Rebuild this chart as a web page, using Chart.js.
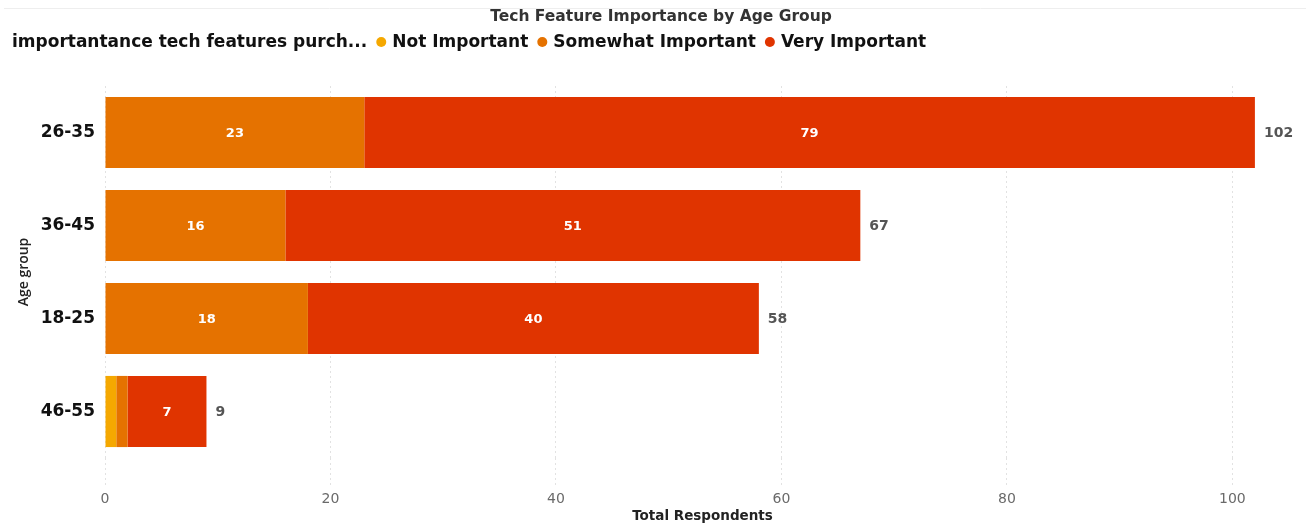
<!DOCTYPE html>
<html>
<head>
<meta charset="utf-8">
<title>Tech Feature Importance by Age Group</title>
<script src="https://cdn.jsdelivr.net/npm/chart.js@4.4.1/dist/chart.umd.min.js"></script>
<style>
  html, body { margin: 0; padding: 0; background: #ffffff; }
  #wrap { position: relative; width: 1313px; height: 527px; }
</style>
</head>
<body>
<div id="wrap"><canvas id="chart" width="1313" height="527"></canvas></div>
<script>
// Age groups, top to bottom
const ageGroups = ['26-35', '36-45', '18-25', '46-55'];

// Respondents per importance level
const notImportant = [0, 0, 0, 1];
const somewhatImportant = [23, 16, 18, 1];
const veryImportant = [79, 51, 40, 7];

// Axis ticks shown along the bottom
const xTicks = [0, 20, 40, 60, 80, 100];

const seriesLabels = ['Not Important', 'Somewhat Important', 'Very Important'];
const seriesColors = ['#F5A800', '#E57200', '#E03400'];

const chartTitle = 'Tech Feature Importance by Age Group';
const legendTitle = 'importantance tech features purch...';

const FONT = '"DejaVu Sans", "Open Sans", sans-serif';
const NARROW = '"Open Sans", "Noto Sans", sans-serif';

// Title, inline legend, segment values and row totals
const annotations = {
  id: 'annotations',
  afterDraw(chart) {
    const ctx = chart.ctx;
    ctx.save();

    // faint frame line under the header
    ctx.strokeStyle = '#eeeeee';
    ctx.lineWidth = 1;
    ctx.beginPath();
    ctx.moveTo(4, 8.5);
    ctx.lineTo(1306, 8.5);
    ctx.stroke();

    // title
    ctx.fillStyle = '#333333';
    ctx.font = 'bold 15.5px ' + FONT;
    ctx.textAlign = 'center';
    ctx.textBaseline = 'middle';
    ctx.fillText(chartTitle, 661, 17);

    // legend row
    ctx.textAlign = 'left';
    ctx.font = 'bold 17px ' + FONT;
    ctx.fillStyle = '#111111';
    let x = 12;
    const y = 43;
    ctx.fillText(legendTitle, x, y);
    x += ctx.measureText(legendTitle).width + 9;
    chart.data.datasets.forEach(ds => {
      ctx.fillStyle = ds.backgroundColor;
      ctx.beginPath();
      ctx.arc(x + 5, y - 1, 5, 0, Math.PI * 2);
      ctx.fill();
      x += 16;
      ctx.fillStyle = '#111111';
      ctx.fillText(ds.label, x, y);
      x += ctx.measureText(ds.label).width + 9;
    });

    // values inside segments
    ctx.textAlign = 'center';
    ctx.font = 'bold 13px ' + FONT;
    ctx.fillStyle = '#ffffff';
    chart.data.datasets.forEach((ds, di) => {
      const meta = chart.getDatasetMeta(di);
      meta.data.forEach((bar, i) => {
        const v = ds.data[i];
        const w = Math.abs(bar.x - bar.base);
        if (v > 0 && w > 30) {
          ctx.fillText(String(v), (bar.x + bar.base) / 2, bar.y + 1);
        }
      });
    });

    // totals at bar ends
    ctx.textAlign = 'left';
    ctx.font = 'bold 14px ' + FONT;
    ctx.fillStyle = '#555555';
    const xs = chart.scales.x;
    const ys = chart.scales.y;
    ageGroups.forEach((g, i) => {
      const total = notImportant[i] + somewhatImportant[i] + veryImportant[i];
      ctx.fillText(String(total), xs.getPixelForValue(total) + 9, ys.getPixelForValue(i) + 1);
    });

    ctx.restore();
  }
};

new Chart(document.getElementById('chart'), {
  type: 'bar',
  data: {
    labels: ageGroups,
    datasets: [
      { label: seriesLabels[0], data: notImportant, backgroundColor: seriesColors[0] },
      { label: seriesLabels[1], data: somewhatImportant, backgroundColor: seriesColors[1] },
      { label: seriesLabels[2], data: veryImportant, backgroundColor: seriesColors[2] }
    ]
  },
  options: {
    indexAxis: 'y',
    responsive: false,
    animation: false,
    devicePixelRatio: 1,
    categoryPercentage: 1,
    barPercentage: 0.765,
    layout: { padding: { top: 86, right: 13, bottom: 0, left: 8 } },
    plugins: {
      legend: { display: false },
      title: { display: false },
      tooltip: { enabled: false }
    },
    scales: {
      x: {
        stacked: true,
        min: 0,
        max: 106,
        afterBuildTicks(scale) {
          scale.ticks = xTicks.map(v => ({ value: v }));
        },
        afterFit(scale) { scale.height = 69; },
        border: { display: false, dash: [2, 3] },
        grid: {
          color: '#e2e2e2',
          lineWidth: 1,
          drawTicks: true,
          tickLength: 30,
          tickColor: '#e2e2e2',
          tickBorderDash: [2, 3]
        },
        ticks: {
          color: '#6a6a6a',
          padding: 3,
          font: { family: FONT, size: 14 }
        },
        title: {
          display: true,
          text: 'Total Respondents',
          color: '#222222',
          font: { family: FONT, size: 13.5, weight: 'bold' },
          padding: { top: 0, bottom: 2 }
        }
      },
      y: {
        stacked: true,
        afterFit(scale) { scale.width = 97; },
        border: { display: false },
        grid: { display: false, drawTicks: false },
        ticks: {
          color: '#111111',
          padding: 10,
          font: { family: FONT, size: 17, weight: 'bold' }
        },
        title: {
          display: true,
          text: 'Age group',
          color: '#222222',
          font: { family: NARROW, size: 14, weight: '600' },
          padding: { top: 8, bottom: 0 }
        }
      }
    }
  },
  plugins: [annotations]
});
</script>
</body>
</html>
